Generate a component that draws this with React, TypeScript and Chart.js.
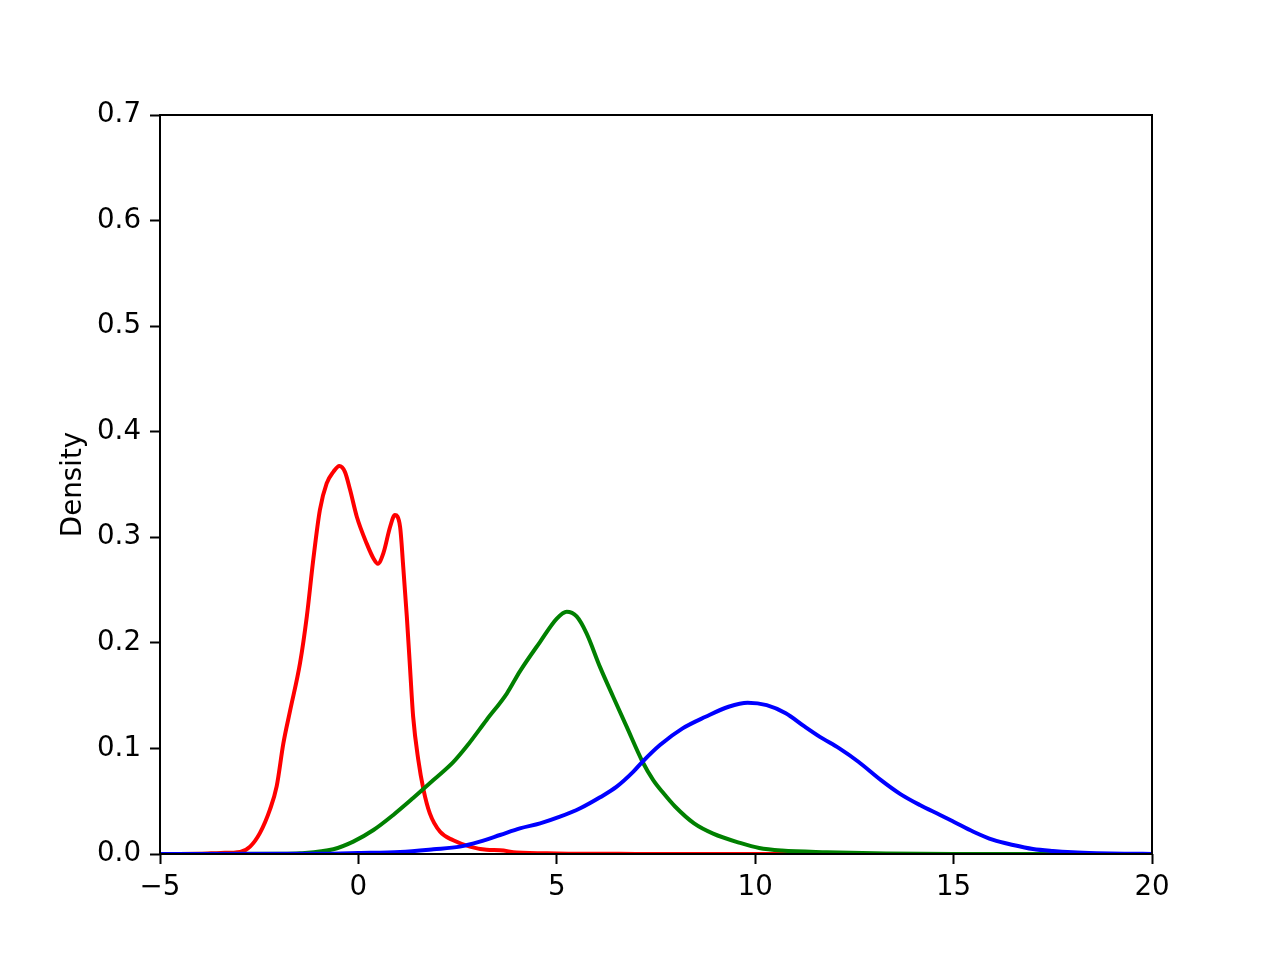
import React, { useEffect, useRef } from "react";
import { Chart, registerables } from "chart.js";

Chart.register(...registerables);

const xTicks = [-5, 0, 5, 10, 15, 20];
const yTicks = [0, 0.1, 0.2, 0.3, 0.4, 0.5, 0.6, 0.7];
const yLabel = "Density";

const redX = [-5, -4, -3.47, -2.98, -2.73, -2.48, -2.23, -2.06, -1.89, -1.72, -1.47, -1.3, -1.14, -0.97, -0.8, -0.63, -0.48, -0.34, -0.21, -0.04, 0.21, 0.38, 0.49, 0.63, 0.8, 0.92, 1.05, 1.13, 1.22, 1.3, 1.38, 1.51, 1.64, 1.8, 2.06, 2.39, 2.81, 3.23, 3.57, 3.99, 5, 7, 10, 20];
const redY = [0, 0.0002, 0.001, 0.002, 0.007, 0.02, 0.042, 0.064, 0.105, 0.136, 0.181, 0.225, 0.278, 0.326, 0.351, 0.362, 0.3675, 0.362, 0.345, 0.3195, 0.294, 0.28, 0.275, 0.285, 0.31, 0.321, 0.31, 0.272, 0.225, 0.177, 0.13, 0.089, 0.061, 0.0385, 0.021, 0.013, 0.007, 0.004, 0.0035, 0.0015, 0.0005, 0.0001, 0, 0];

const greenX = [-5, -2, -1.47, -0.63, -0.13, 0.38, 0.88, 1.38, 1.89, 2.39, 2.73, 3.23, 3.74, 4.07, 4.58, 5.0, 5.25, 5.5, 5.75, 6.09, 6.42, 6.76, 7.16, 7.43, 7.69, 7.98, 8.46, 8.94, 9.62, 10.1, 10.67, 11.8, 13.3, 15, 20];
const greenY = [0, 0.0002, 0.0007, 0.0045, 0.0117, 0.0227, 0.037, 0.053, 0.07, 0.087, 0.102, 0.127, 0.152, 0.173, 0.201, 0.223, 0.2295, 0.225, 0.209, 0.177, 0.149, 0.1206, 0.0874, 0.07, 0.0575, 0.045, 0.029, 0.0193, 0.0105, 0.0057, 0.0033, 0.0017, 0.0005, 0.0001, 0];

const blueX = [-5, -1, 0, 1.05, 1.89, 2.56, 3.06, 3.57, 4.07, 4.58, 5.08, 5.59, 6.09, 6.51, 6.93, 7.16, 7.6, 8.17, 8.75, 9.33, 9.81, 10.29, 10.77, 11.25, 11.63, 12.12, 12.6, 13.17, 13.65, 14.15, 14.66, 15.0, 15.5, 16.0, 16.5, 17.0, 17.5, 18.0, 18.6, 19.3, 20];
const blueY = [0, 0.0003, 0.001, 0.002, 0.0045, 0.007, 0.0117, 0.018, 0.0243, 0.029, 0.0353, 0.0433, 0.0537, 0.0638, 0.078, 0.0874, 0.1032, 0.119, 0.13, 0.1395, 0.1433, 0.141, 0.1333, 0.1206, 0.111, 0.1, 0.0874, 0.07, 0.057, 0.0464, 0.037, 0.0306, 0.0211, 0.0133, 0.0085, 0.0047, 0.0028, 0.0016, 0.0008, 0.0003, 0.0001];

const toPoints = (xs: number[], ys: number[]) => xs.map((x, i) => ({ x, y: ys[i] }));

const FONT = "'DejaVu Sans', sans-serif";

const framePlugin = {
  id: "frame",
  afterDatasetsDraw(chart: any) {
    const { ctx, chartArea: a } = chart;
    ctx.save();
    ctx.strokeStyle = "#000";
    ctx.lineWidth = 2;
    ctx.strokeRect(a.left, a.top, a.right - a.left, a.bottom - a.top);
    ctx.restore();
  },
};

const fmtX = (v: number) => (v < 0 ? "\u2212" + Math.abs(v) : String(v));

export default function App() {
  const ref = useRef<HTMLCanvasElement | null>(null);
  useEffect(() => {
    if (!ref.current) return;
    const line = (data: any, color: string, order: number) => ({
      data,
      borderColor: color,
      backgroundColor: color,
      borderWidth: 4,
      pointRadius: 0,
      fill: false,
      cubicInterpolationMode: "monotone" as const,
      order,
    });
    const chart = new Chart(ref.current, {
      type: "line",
      data: {
        datasets: [
          line(toPoints(redX, redY), "#ff0000", 3),
          line(toPoints(greenX, greenY), "#008000", 2),
          line(toPoints(blueX, blueY), "#0000ff", 1),
        ],
      },
      options: {
        responsive: false,
        animation: false,
        devicePixelRatio: 1,
        layout: { padding: { left: 0, top: 115, right: 128, bottom: 0 } },
        plugins: { legend: { display: false }, tooltip: { enabled: false } },
        scales: {
          x: {
            type: "linear",
            min: -5,
            max: 20,
            afterBuildTicks: (s: any) => {
              s.ticks = xTicks.map((v) => ({ value: v }));
            },
            afterFit: (s: any) => {
              s.height = 106;
            },
            border: { display: false },
            grid: {
              drawOnChartArea: false,
              drawTicks: true,
              tickLength: 10,
              tickWidth: 2,
              tickColor: "#000",
            },
            ticks: {
              color: "#000",
              font: { family: FONT, size: 27.7 },
              padding: 7,
              maxRotation: 0,
              autoSkip: false,
              callback: (v: any) => fmtX(Number(v)),
            },
          },
          y: {
            type: "linear",
            min: 0,
            max: 0.7,
            afterBuildTicks: (s: any) => {
              s.ticks = yTicks.map((v) => ({ value: v }));
            },
            afterFit: (s: any) => {
              s.width = 160;
            },
            border: { display: false },
            grid: {
              drawOnChartArea: false,
              drawTicks: true,
              tickLength: 10,
              tickWidth: 2,
              tickColor: "#000",
            },
            ticks: {
              color: "#000",
              font: { family: FONT, size: 27.7 },
              padding: 9,
              autoSkip: false,
              callback: (v: any) => Number(v).toFixed(1),
            },
            title: {
              display: true,
              text: yLabel,
              color: "#000",
              font: { family: FONT, size: 27.7 },
              padding: { top: 57.5, bottom: 0 },
            },
          },
        },
      },
      plugins: [framePlugin],
    });
    return () => chart.destroy();
  }, []);
  return (
    <div style={{ position: "absolute", left: 0, top: 0, width: 1280, height: 960, background: "#fff" }}>
      <canvas ref={ref} width={1280} height={960} style={{ width: 1280, height: 960, display: "block" }} />
    </div>
  );
}
